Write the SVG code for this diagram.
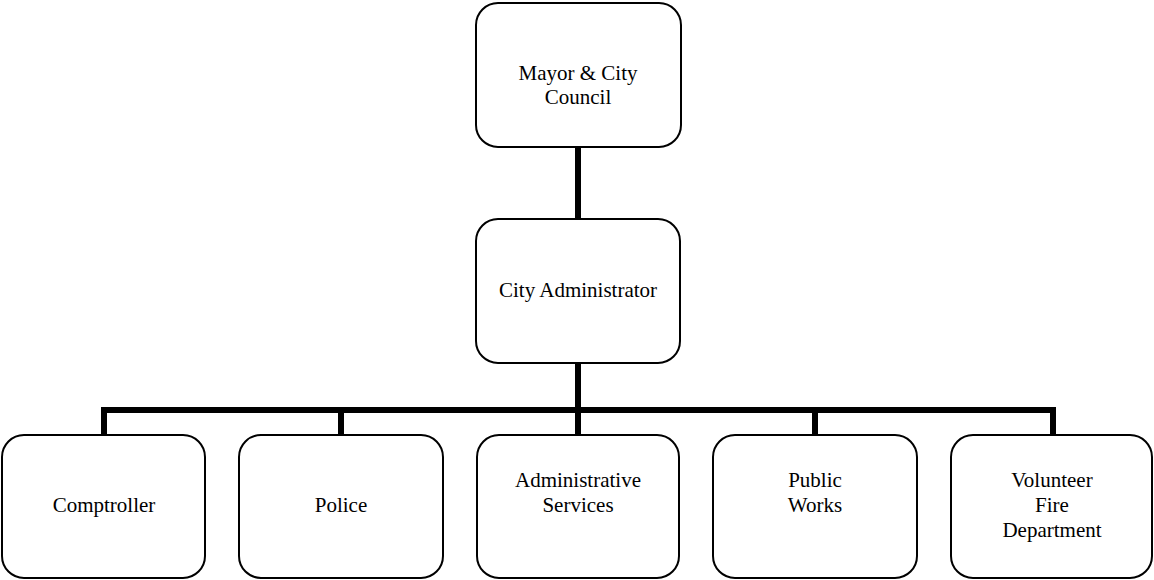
<svg xmlns="http://www.w3.org/2000/svg" width="1154" height="580" viewBox="0 0 1154 580">
<style>
.box{fill:#fff;stroke:#000;stroke-width:2}
.t{font-family:"Liberation Serif","Times New Roman",serif;font-size:21px;fill:#000;text-anchor:middle}
.c{stroke:#000;stroke-width:6;fill:none}
</style>
<rect width="1154" height="580" fill="#fff"/>
<g id="connectors">
<line class="c" x1="578" y1="146" x2="578" y2="219"/>
<line class="c" x1="578" y1="362" x2="578" y2="436"/>
<polyline class="c" points="104,436 104,410 1053,410 1053,436"/>
<line class="c" x1="341" y1="410" x2="341" y2="436"/>
<line class="c" x1="815" y1="410" x2="815" y2="436"/>
</g>
<g id="mayor">
<rect class="box" x="476" y="3" width="205" height="144" rx="22"/>
<text class="t" x="578" y="80">Mayor &amp; City</text>
<text class="t" x="578" y="104">Council</text>
</g>
<g id="administrator">
<rect class="box" x="476" y="219" width="204" height="144" rx="22"/>
<text class="t" x="578" y="297">City Administrator</text>
</g>
<g id="comptroller">
<rect class="box" x="2" y="435" width="203" height="143" rx="22"/>
<text class="t" x="104" y="512">Comptroller</text>
</g>
<g id="police">
<rect class="box" x="239" y="435" width="204" height="143" rx="22"/>
<text class="t" x="341" y="512">Police</text>
</g>
<g id="admin-services">
<rect class="box" x="477" y="435" width="202" height="143" rx="22"/>
<text class="t" x="578" y="487">Administrative</text>
<text class="t" x="578" y="512">Services</text>
</g>
<g id="public-works">
<rect class="box" x="713" y="435" width="204" height="143" rx="22"/>
<text class="t" x="815" y="487">Public</text>
<text class="t" x="815" y="512">Works</text>
</g>
<g id="fire">
<rect class="box" x="951" y="435" width="201" height="143" rx="22"/>
<text class="t" x="1052" y="487">Volunteer</text>
<text class="t" x="1052" y="512">Fire</text>
<text class="t" x="1052" y="537">Department</text>
</g>
</svg>
